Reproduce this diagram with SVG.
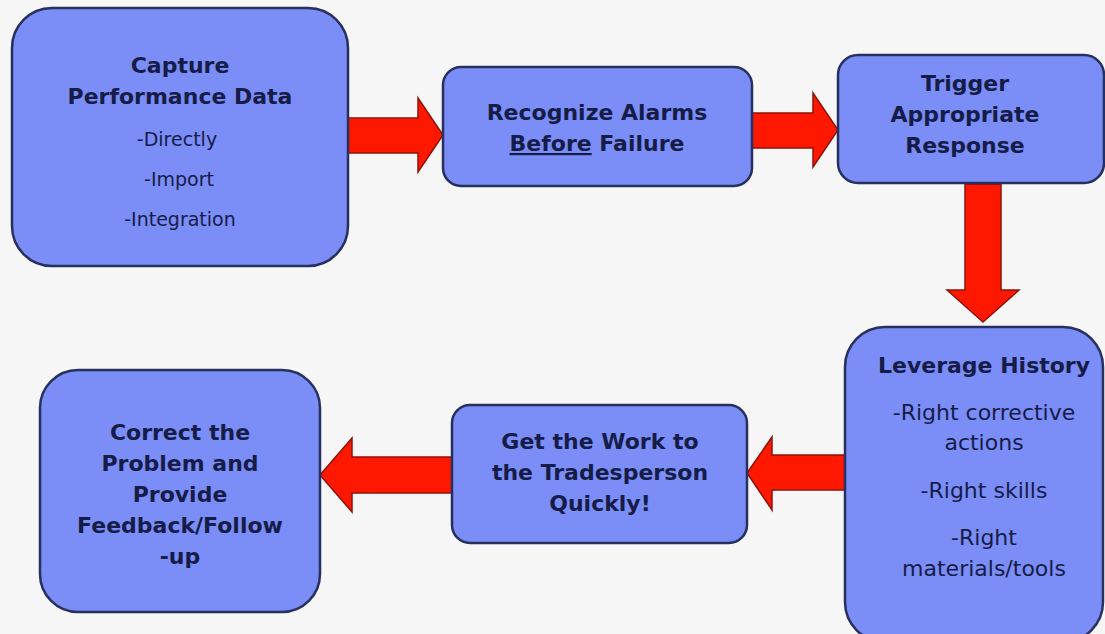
<svg xmlns="http://www.w3.org/2000/svg" width="1105" height="634" viewBox="0 0 1105 634">
<style>
.box{fill:#7b8df6;stroke:#27305e;stroke-width:2.5}
.arr{fill:#ff1800;stroke:#8e1208;stroke-width:1.5;stroke-linejoin:miter}
.h{font-family:"DejaVu Sans",sans-serif;font-weight:bold;font-size:22px;fill:#161c48;text-anchor:middle}
.s{font-family:"DejaVu Sans",sans-serif;font-size:19px;fill:#161c48;text-anchor:middle}
.s2{font-family:"DejaVu Sans",sans-serif;font-size:22px;fill:#161c48;text-anchor:middle}
</style>
<rect width="1105" height="634" fill="#f6f6f6"/>
<g id="connectors">
<polygon class="arr" points="346,118 418,118 418,98 443,135 418,172 418,153 346,153"/>
<polygon class="arr" points="752,113 813,113 813,93 838,130 813,167 813,148 752,148"/>
<polygon class="arr" points="965,184 1001,184 1001,290 1019,290 983,322 947,290 965,290"/>
<polygon class="arr" points="845,455 772,455 772,437 747,473 772,510 772,490 845,490"/>
<polygon class="arr" points="452,457 352,457 352,438 320,475 352,512 352,493 452,493"/>
</g>
<g id="capture">
<rect class="box" x="12" y="8" width="336" height="258" rx="40"/>
<text class="h" x="180" y="73">Capture</text>
<text class="h" x="180" y="104">Performance Data</text>
<text class="s" x="177" y="146">-Directly</text>
<text class="s" x="179" y="186">-Import</text>
<text class="s" x="180" y="226">-Integration</text>
</g>
<g id="recognize">
<rect class="box" x="443" y="67" width="309" height="119" rx="18"/>
<text class="h" x="597" y="120">Recognize Alarms</text>
<text class="h" x="597" y="151"><tspan text-decoration="underline">Before</tspan> Failure</text>
</g>
<g id="trigger">
<rect class="box" x="838" y="55" width="266" height="128" rx="20"/>
<text class="h" x="965" y="91">Trigger</text>
<text class="h" x="965" y="122">Appropriate</text>
<text class="h" x="965" y="153">Response</text>
</g>
<g id="leverage">
<rect class="box" x="845" y="327" width="258" height="315" rx="40"/>
<text class="h" x="984" y="373">Leverage History</text>
<text class="s2" x="984" y="420">-Right corrective</text>
<text class="s2" x="984" y="450">actions</text>
<text class="s2" x="984" y="498">-Right skills</text>
<text class="s2" x="984" y="545">-Right</text>
<text class="s2" x="984" y="576">materials/tools</text>
</g>
<g id="getwork">
<rect class="box" x="452" y="405" width="295" height="138" rx="18"/>
<text class="h" x="600" y="449">Get the Work to</text>
<text class="h" x="600" y="480">the Tradesperson</text>
<text class="h" x="600" y="511">Quickly!</text>
</g>
<g id="correct">
<rect class="box" x="40" y="370" width="280" height="242" rx="38"/>
<text class="h" x="180" y="440">Correct the</text>
<text class="h" x="180" y="471">Problem and</text>
<text class="h" x="180" y="502">Provide</text>
<text class="h" x="180" y="533">Feedback/Follow</text>
<text class="h" x="180" y="564">-up</text>
</g>
</svg>
